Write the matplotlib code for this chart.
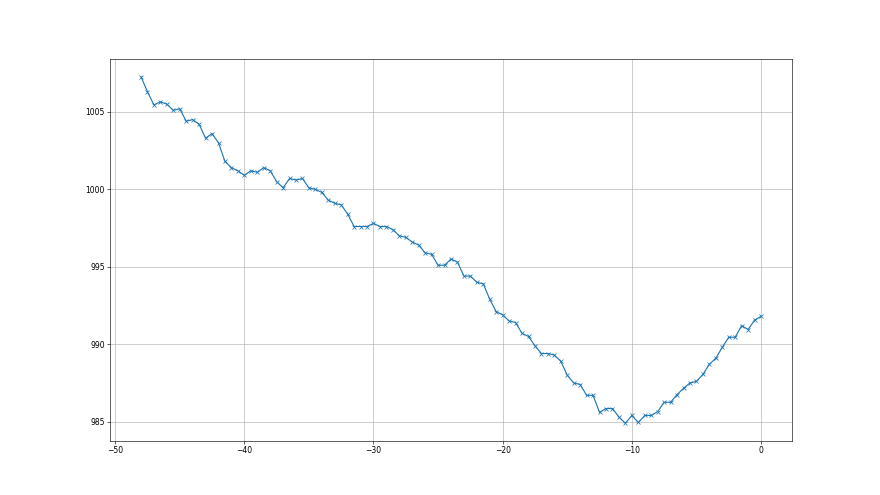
import numpy as np
import matplotlib
matplotlib.use("Agg")
import matplotlib.pyplot as plt

x = np.arange(-48, 0.01, 0.5)
y = [1007.27, 1006.3, 1005.45, 1005.65, 1005.5, 1005.1, 1005.2, 1004.4, 1004.5, 1004.2,
     1003.3, 1003.6, 1003.0, 1001.8, 1001.4, 1001.2, 1000.9, 1001.2, 1001.1, 1001.4,
     1001.2, 1000.5, 1000.1, 1000.7, 1000.6, 1000.7, 1000.1, 1000.0, 999.8, 999.3,
     999.1, 999.0, 998.4, 997.6, 997.6, 997.6, 997.8, 997.6, 997.6, 997.4,
     997.0, 996.9, 996.6, 996.4, 995.9, 995.8, 995.1, 995.1, 995.5, 995.3,
     994.4, 994.4, 994.0, 993.9, 992.9, 992.1, 991.9, 991.5, 991.4, 990.7,
     990.5, 989.9, 989.4, 989.4, 989.3, 988.9, 988.0, 987.5, 987.4, 986.7,
     986.7, 985.6, 985.85, 985.85, 985.3, 984.9, 985.4, 984.95, 985.4, 985.4,
     985.65, 986.25, 986.25, 986.75, 987.15, 987.5, 987.6, 988.05, 988.7, 989.1,
     989.8, 990.45, 990.45, 991.2, 990.95, 991.55, 991.8]

fig, ax = plt.subplots(figsize=(16, 9), dpi=55)
ax.plot(x, y, marker='x', color='#1f77b4')
ax.grid(True)
fig.savefig("out.png", dpi=55)
